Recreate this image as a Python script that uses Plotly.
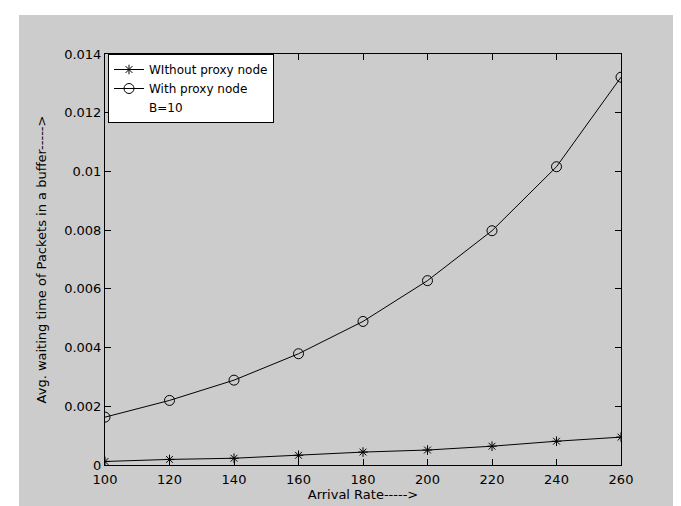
import plotly.graph_objects as go

arrival_rate = [100, 120, 140, 160, 180, 200, 220, 240, 260]
without_proxy = [0.00012, 0.00019, 0.00023, 0.00033, 0.00044, 0.00051, 0.00064, 0.00081, 0.00095]
with_proxy = [0.00163, 0.0022, 0.00289, 0.00379, 0.00489, 0.00628, 0.00798, 0.01016, 0.01321]

x_ticks = [100, 120, 140, 160, 180, 200, 220, 240, 260]
y_ticks = [0, 0.002, 0.004, 0.006, 0.008, 0.01, 0.012, 0.014]
y_tick_text = ["0", "0.002", "0.004", "0.006", "0.008", "0.01", "0.012", "0.014"]

FONT = "DejaVu Sans, Liberation Sans, sans-serif"

fig = go.Figure()
fig.add_trace(go.Scatter(
    x=arrival_rate, y=without_proxy, mode="lines+markers",
    name="WIthout proxy node",
    line=dict(color="black", width=1),
    marker=dict(symbol="asterisk-open", size=8, color="black",
                line=dict(color="black", width=1)),
))
fig.add_trace(go.Scatter(
    x=arrival_rate, y=with_proxy, mode="lines+markers",
    name="With proxy node",
    line=dict(color="black", width=1),
    marker=dict(symbol="circle-open", size=10, color="black",
                line=dict(color="black", width=1)),
))
fig.add_trace(go.Scatter(
    x=[None], y=[None], mode="lines", name="B=10",
    line=dict(color="rgba(0,0,0,0)", width=0),
))

W, H = 681, 506
L, R, T, B = 97, 68, 46, 49
pw = W - L - R
ph = H - T - B

fig.update_layout(
    width=W, height=H,
    margin=dict(l=L, r=R, t=T, b=B),
    paper_bgcolor="white",
    plot_bgcolor="white",
    font=dict(family=FONT, size=13, color="black"),
    showlegend=True,
    legend=dict(
        x=3 / pw, y=1.0, xanchor="left", yanchor="top",
        bgcolor="white", bordercolor="black", borderwidth=1,
        font=dict(family=FONT, size=12, color="black"),
        tracegroupgap=0,
    ),
    shapes=[dict(
        type="rect", xref="paper", yref="paper",
        x0=(11 - L) / pw, x1=(676 - L) / pw,
        y0=-(B + 2) / ph, y1=1 + (T - 7) / ph,
        fillcolor="#cccccc", line=dict(width=0), layer="below",
    )],
)

fig.update_xaxes(
    range=[100, 260], tickvals=x_ticks,
    ticks="inside", ticklen=6, tickcolor="black",
    showline=True, linecolor="black", linewidth=1, mirror="ticks",
    showgrid=False, zeroline=False, ticklabelstandoff=2,
    tickfont=dict(family=FONT, size=13, color="black"),
    title=dict(text="Arrival Rate----->", font=dict(family=FONT, size=13, color="black"), standoff=2),
)
fig.update_yaxes(
    range=[0, 0.014], tickvals=y_ticks, ticktext=y_tick_text,
    ticks="inside", ticklen=6, tickcolor="black",
    showline=True, linecolor="black", linewidth=1, mirror="ticks",
    showgrid=False, zeroline=False,
    tickfont=dict(family=FONT, size=13, color="black"),
    title=dict(text="Avg. waiting time of Packets in a buffer----->",
               font=dict(family=FONT, size=13, color="black"), standoff=14),
)

fig.write_html("out.html")
